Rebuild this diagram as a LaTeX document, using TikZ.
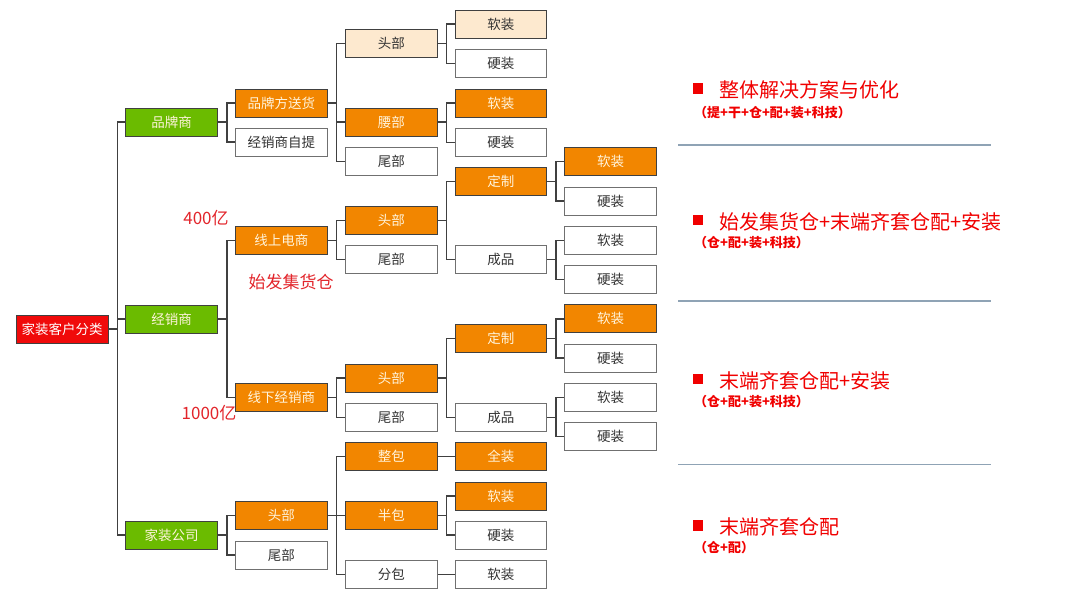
\documentclass[tikz,border=0pt]{standalone}
\usepackage{fontspec}
\setmainfont{Noto Sans CJK SC}
\definecolor{cOr}{HTML}{F28600}
\definecolor{cGr}{HTML}{6BBB00}
\definecolor{cRd}{HTML}{F00A0A}
\definecolor{cLt}{HTML}{FDE9CF}
\definecolor{cBd}{HTML}{404040}
\definecolor{cGy}{HTML}{707070}
\definecolor{cDk}{HTML}{333333}
\definecolor{cTx}{HTML}{FFF4DC}
\definecolor{cLn}{HTML}{404040}
\definecolor{cRl}{HTML}{E2252B}
\definecolor{cRt}{HTML}{F00000}
\definecolor{cSep}{HTML}{8FA3B5}
\begin{document}
\begin{tikzpicture}[x=1pt,y=-1pt,
  box/.style={draw, minimum width=91.5pt, minimum height=28pt, inner sep=0pt,
    font=\fontsize{13.5}{14}\selectfont, line width=1pt},
  ob/.style={box, fill=cOr, draw=cBd, text=cTx},
  gb/.style={box, fill=cGr, draw=cBd, text=cTx},
  rb/.style={box, fill=cRd, draw=cBd, text=white, minimum width=92pt},
  lb/.style={box, fill=cLt, draw=cBd, text=cDk},
  wb/.style={box, fill=white, draw=cGy, text=cDk},
  conn/.style={draw=cLn, line width=1.5pt},
  redlab/.style={text=cRl, font=\fontsize{17}{17}\selectfont, inner sep=0pt},
  maintxt/.style={text=cRt, font=\fontsize{20}{20}\selectfont, inner sep=0pt, anchor=west},
  subtxt/.style={text=cRt, font=\fontsize{13}{13}\selectfont\bfseries, inner sep=0pt, anchor=west},
  bullet/.style={fill=cRt, minimum width=10.5pt, minimum height=10.5pt, inner sep=0pt},
  sep/.style={draw=cSep, line width=1.5pt}
]
\path[use as bounding box] (0,0) rectangle (1080,595);

% level 0
\node[rb] (root) at (62,329) {家装客户分类};
% level 1
\node[gb] (pp) at (171.7,122) {品牌商};
\node[gb] (jx) at (171.7,319) {经销商};
\node[gb] (jz) at (171.7,535) {家装公司};
% level 2
\node[ob] (ppa) at (281.3,103) {品牌方送货};
\node[wb] (ppb) at (281.3,142) {经销商自提};
\node[ob] (on)  at (281.3,240.5) {线上电商};
\node[ob] (off) at (281.3,397.6) {线下经销商};
\node[ob] (jzh) at (281.3,515.5) {头部};
\node[wb] (jzw) at (281.3,555) {尾部};
% level 3
\node[lb] (a1) at (391.3,43.7) {头部};
\node[ob] (a2) at (391.3,122) {腰部};
\node[wb] (a3) at (391.3,161.3) {尾部};
\node[ob] (b1) at (391.3,220.5) {头部};
\node[wb] (b2) at (391.3,259.7) {尾部};
\node[ob] (c1) at (391.3,378) {头部};
\node[wb] (c2) at (391.3,417.3) {尾部};
\node[ob] (d1) at (391.3,456.3) {整包};
\node[ob] (d2) at (391.3,515.5) {半包};
\node[wb] (d3) at (391.3,574.5) {分包};
% level 4
\node[lb] (a11) at (500.8,24) {软装};
\node[wb] (a12) at (500.8,63.3) {硬装};
\node[ob] (a21) at (500.8,103) {软装};
\node[wb] (a22) at (500.8,142.3) {硬装};
\node[ob] (b11) at (500.8,181.3) {定制};
\node[wb] (b12) at (500.8,259.7) {成品};
\node[ob] (c11) at (500.8,338.3) {定制};
\node[wb] (c12) at (500.8,417.3) {成品};
\node[ob] (d11) at (500.8,456.3) {全装};
\node[ob] (d21) at (500.8,496) {软装};
\node[wb] (d22) at (500.8,535) {硬装};
\node[wb] (d31) at (500.8,574.5) {软装};
% level 5
\node[ob] (b111) at (610.5,161.3) {软装};
\node[wb] (b112) at (610.5,201) {硬装};
\node[wb] (b121) at (610.5,240.3) {软装};
\node[wb] (b122) at (610.5,279.7) {硬装};
\node[ob] (c111) at (610.5,318.8) {软装};
\node[wb] (c112) at (610.5,358) {硬装};
\node[wb] (c121) at (610.5,397.3) {软装};
\node[wb] (c122) at (610.5,436.7) {硬装};

% connectors
\foreach \p/\cs in {root/{pp,jx,jz}, pp/{ppa,ppb}, jx/{on,off}, jz/{jzh,jzw},
  ppa/{a1,a2,a3}, on/{b1,b2}, off/{c1,c2}, jzh/{d1,d2,d3},
  a1/{a11,a12}, a2/{a21,a22}, b1/{b11,b12}, c1/{c11,c12},
  d1/{d11}, d2/{d21,d22}, d3/{d31},
  b11/{b111,b112}, b12/{b121,b122}, c11/{c111,c112}, c12/{c121,c122}}
  {\foreach \c in \cs {\draw[conn] (\p.east) -- ++(9,0) |- (\c.west);}}

% red labels
\node[redlab] (l400) at (206,218) {400亿};
\node[redlab] (lsf) at (291,282) {始发集货仓};
\node[redlab] (l1000) at (209,413) {1000亿};

% right column
\coordinate (s1a) at (678,145); \coordinate (s1b) at (991,145);
\coordinate (s2a) at (678,301); \coordinate (s2b) at (991,301);
\coordinate (s3a) at (678,464.3); \coordinate (s3b) at (991,464.3);
\draw[sep] (s1a) -- (s1b);
\draw[sep] (s2a) -- (s2b);
\draw[sep] (s3a) -- (s3b);

\node[bullet] (q1) at (698,88.5) {};
\node[maintxt] (m1) at (719,90) {整体解决方案与优化};
\node[subtxt] (t1) at (694,112.7) {（提+干+仓+配+装+科技）};

\node[bullet] (q2) at (698,220) {};
\node[maintxt] (m2) at (719,221.7) {始发集货仓+末端齐套仓配+安装};
\node[subtxt] (t2) at (694,242.7) {（仓+配+装+科技）};

\node[bullet] (q3) at (698,379) {};
\node[maintxt] (m3) at (719,380.7) {末端齐套仓配+安装};
\node[subtxt] (t3) at (694,401.7) {（仓+配+装+科技）};

\node[bullet] (q4) at (698,525.5) {};
\node[maintxt] (m4) at (719,527) {末端齐套仓配};
\node[subtxt] (t4) at (694,548) {（仓+配）};
\end{tikzpicture}
\end{document}
